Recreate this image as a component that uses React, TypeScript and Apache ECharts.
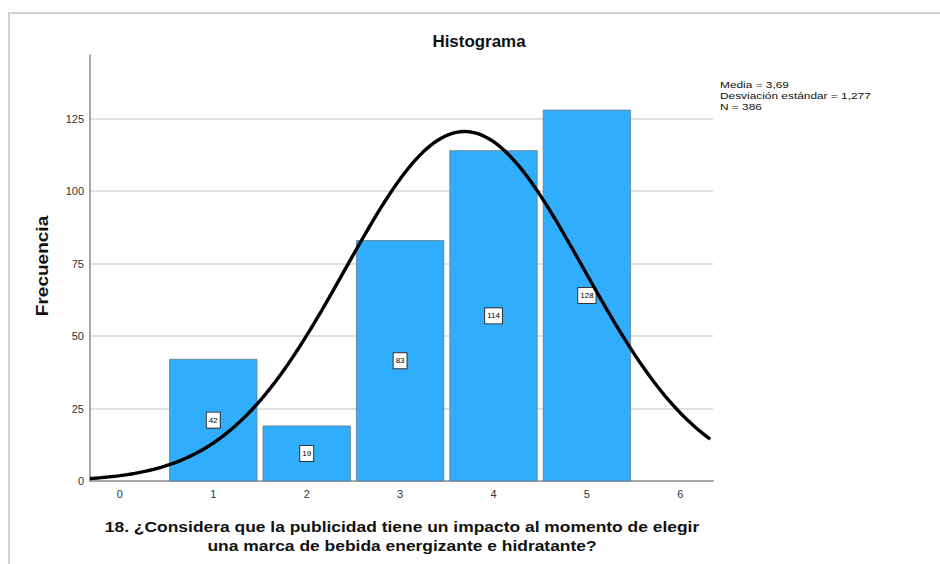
import React, { useEffect, useRef } from "react";
import * as echarts from "echarts";

const categories = [1, 2, 3, 4, 5];
const frequencies = [42, 19, 83, 114, 128];
const xTickLabels = [0, 1, 2, 3, 4, 5, 6];
const yTickLabels = [0, 25, 50, 75, 100, 125];
const MEAN = 3.69;
const SD = 1.277;
const N = 386;
const statLines = ["Media = 3,69", "Desviación estándar = 1,277", "N = 386"];

const X_MIN = -0.32;
const X_MAX = 6.35;

function normalCurve(): number[][] {
  const pts: number[][] = [];
  const k = N / (SD * Math.sqrt(2 * Math.PI));
  for (let x = X_MIN; x <= X_MAX + 1e-9; x += 0.04) {
    const z = (x - MEAN) / SD;
    pts.push([x, k * Math.exp(-0.5 * z * z)]);
  }
  return pts;
}

const FONT = "Liberation Sans, Arial, sans-serif";

export default function App() {
  const ref = useRef<HTMLDivElement>(null);
  useEffect(() => {
    document.body.style.margin = "0";
    const chart = echarts.init(ref.current!, null, { renderer: "svg" });
    chart.setOption({
      animation: false,
      textStyle: { fontFamily: FONT },
      grid: { left: 90, top: 55, right: 227, bottom: 83 },
      xAxis: {
        type: "value",
        min: X_MIN,
        max: X_MAX,
        splitLine: { show: false },
        axisLine: { show: true, onZero: false, lineStyle: { color: "#8a8a8a", width: 1.5 } },
        axisTick: { show: false },
        axisLabel: {
          customValues: xTickLabels,
          color: "#333",
          fontSize: 11,
          margin: 7,
          fontFamily: FONT,
        },
      },
      yAxis: {
        type: "value",
        min: 0,
        max: 147,
        interval: 25,
        axisLine: { show: true, onZero: false, lineStyle: { color: "#8a8a8a", width: 1.5 } },
        axisTick: { show: false },
        splitLine: {
          show: true,
          showMinLine: false,
          showMaxLine: false,
          lineStyle: { color: "#d6d6d6", width: 1.5 },
        },
        axisLabel: {
          customValues: yTickLabels,
          color: "#333",
          fontSize: 11,
          margin: 6,
          fontFamily: FONT,
        },
      },
      series: [
        {
          type: "custom",
          data: categories.map((c, i) => [c, frequencies[i]]),
          encode: { x: 0, y: 1 },
          renderItem: (params: any, api: any) => {
            const x = api.value(0);
            const y = api.value(1);
            const tl = api.coord([x - 0.5, y]);
            const br = api.coord([x + 0.5, 0]);
            const mid = api.coord([x, y / 2]);
            return {
              type: "group",
              children: [
                {
                  type: "rect",
                  shape: {
                    x: tl[0] + 3,
                    y: tl[1],
                    width: br[0] - tl[0] - 6,
                    height: br[1] - tl[1],
                  },
                  style: { fill: "#31adfe", stroke: "#6a7a88", lineWidth: 0.8 },
                },
                {
                  type: "text",
                  x: mid[0],
                  y: mid[1],
                  style: {
                    text: String(y),
                    align: "center",
                    verticalAlign: "middle",
                    fill: "#000",
                    font: "8px " + FONT,
                    backgroundColor: "#fff",
                    borderColor: "#333",
                    borderWidth: 1,
                    padding: [4, 2, 3, 2],
                  },
                },
              ],
            };
          },
          z: 2,
        },
        {
          type: "line",
          data: normalCurve(),
          showSymbol: false,
          smooth: false,
          lineStyle: { color: "#000", width: 3.4 },
          z: 3,
        },
      ],
      graphic: [
        {
          type: "rect",
          shape: { x: 9, y: 13, width: 945, height: 570 },
          style: { fill: "none", stroke: "#d2d2d2", lineWidth: 2 },
          silent: true,
        },
        {
          type: "text",
          x: 479,
          y: 41,
          scaleX: 1.06,
          style: {
            text: "Histograma",
            align: "center",
            verticalAlign: "middle",
            font: "bold 16px " + FONT,
            fill: "#111",
          },
        },
        {
          type: "text",
          x: 720,
          y: 79,
          scaleX: 1.25,
          style: {
            text: statLines.join("\n"),
            font: "9.5px " + FONT,
            lineHeight: 11,
            fill: "#111",
            align: "left",
            verticalAlign: "top",
          },
        },
        {
          type: "text",
          x: 42,
          y: 266,
          rotation: Math.PI / 2,
          scaleX: 1.12,
          style: {
            text: "Frecuencia",
            align: "center",
            verticalAlign: "middle",
            font: "bold 17px " + FONT,
            fill: "#111",
          },
        },
        {
          type: "text",
          x: 402,
          y: 536,
          scaleX: 1.125,
          style: {
            text:
              "18. ¿Considera que la publicidad tiene un impacto al momento de elegir\nuna marca de bebida energizante e hidratante?",
            align: "center",
            verticalAlign: "middle",
            font: "bold 15.5px " + FONT,
            lineHeight: 19,
            fill: "#111",
          },
        },
      ],
    });
    return () => chart.dispose();
  }, []);
  return <div ref={ref} style={{ width: 940, height: 564 }} />;
}
